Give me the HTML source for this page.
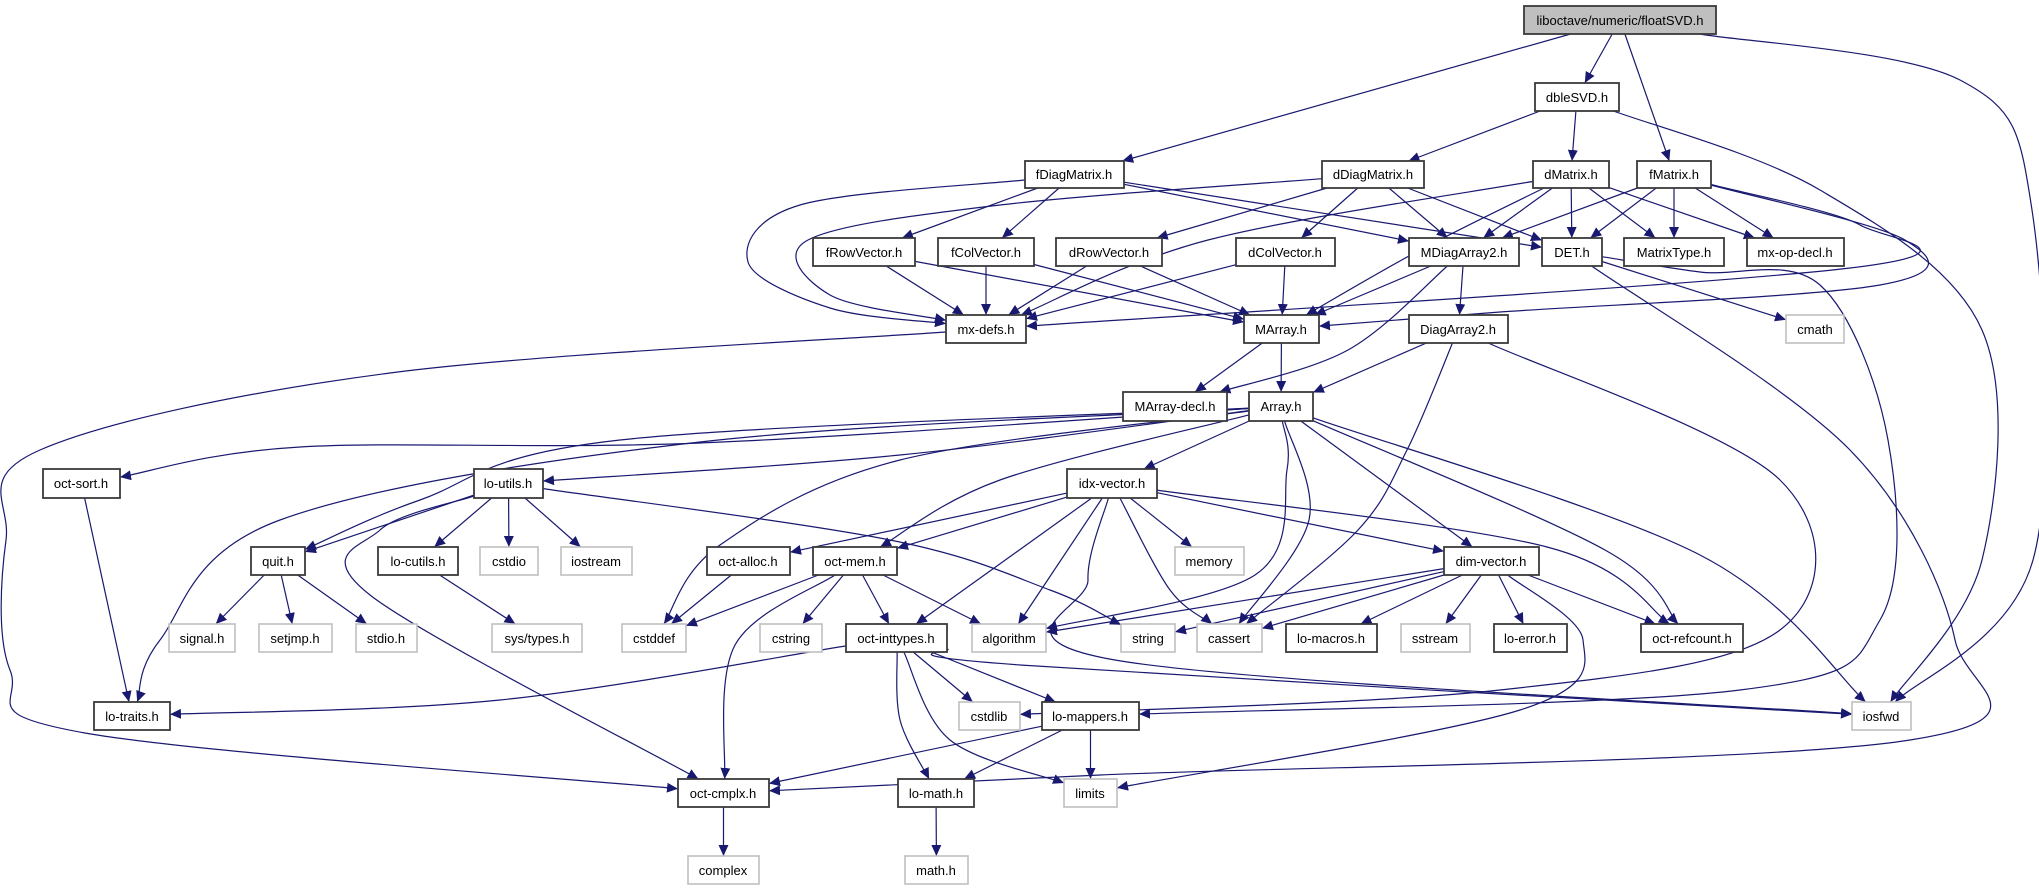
<!DOCTYPE html>
<html><head><meta charset="utf-8"><style>
html,body{margin:0;padding:0;background:#fff;}
svg{display:block;}
text{font-family:"Liberation Sans",Arial,sans-serif;font-size:13px;text-anchor:middle;fill:#000;}
.b{fill:#fff;stroke:#3a3a3a;stroke-width:1.8;}
.g{fill:#fff;stroke:#c0c0c0;stroke-width:1.6;}
.t{fill:#bfbfbf;stroke:#3a3a3a;stroke-width:1.8;}
</style></head><body>
<svg id="s" width="2039" height="891" viewBox="0 0 2039 891" xmlns="http://www.w3.org/2000/svg">
<defs><marker id="a" markerUnits="userSpaceOnUse" markerWidth="12" markerHeight="10" refX="11" refY="5" orient="auto"><path d="M0,0 L11,5 L0,10 z" fill="#191970"/></marker></defs>
<g id="edges"></g>
<g id="nodes">
<rect class="t" x="1524" y="6" width="192" height="28"/><text x="1620" y="25">liboctave/numeric/floatSVD.h</text>
<rect class="b" x="1535" y="83" width="84" height="28"/><text x="1577" y="102">dbleSVD.h</text>
<rect class="b" x="1025" y="161" width="99" height="27"/><text x="1074" y="179">fDiagMatrix.h</text>
<rect class="b" x="1322" y="161" width="102" height="27"/><text x="1373" y="179">dDiagMatrix.h</text>
<rect class="b" x="1533" y="161" width="76" height="27"/><text x="1571" y="179">dMatrix.h</text>
<rect class="b" x="1637" y="161" width="74" height="27"/><text x="1674" y="179">fMatrix.h</text>
<rect class="b" x="813" y="238" width="102" height="28"/><text x="864" y="257">fRowVector.h</text>
<rect class="b" x="938" y="238" width="96" height="28"/><text x="986" y="257">fColVector.h</text>
<rect class="b" x="1056" y="238" width="106" height="28"/><text x="1109" y="257">dRowVector.h</text>
<rect class="b" x="1236" y="238" width="99" height="28"/><text x="1285" y="257">dColVector.h</text>
<rect class="b" x="1409" y="238" width="110" height="28"/><text x="1464" y="257">MDiagArray2.h</text>
<rect class="b" x="1542" y="238" width="60" height="28"/><text x="1572" y="257">DET.h</text>
<rect class="b" x="1624" y="238" width="100" height="28"/><text x="1674" y="257">MatrixType.h</text>
<rect class="b" x="1747" y="238" width="97" height="28"/><text x="1795" y="257">mx-op-decl.h</text>
<rect class="b" x="946" y="315" width="80" height="28"/><text x="986" y="334">mx-defs.h</text>
<rect class="b" x="1244" y="315" width="75" height="28"/><text x="1281" y="334">MArray.h</text>
<rect class="b" x="1409" y="315" width="99" height="28"/><text x="1458" y="334">DiagArray2.h</text>
<rect class="g" x="1786" y="315" width="58" height="28"/><text x="1815" y="334">cmath</text>
<rect class="b" x="1123" y="392" width="104" height="29"/><text x="1175" y="411">MArray-decl.h</text>
<rect class="b" x="1249" y="392" width="64" height="29"/><text x="1281" y="411">Array.h</text>
<rect class="b" x="43" y="469" width="77" height="29"/><text x="81" y="488">oct-sort.h</text>
<rect class="b" x="474" y="469" width="69" height="29"/><text x="508" y="488">lo-utils.h</text>
<rect class="b" x="1067" y="469" width="90" height="29"/><text x="1112" y="488">idx-vector.h</text>
<rect class="b" x="251" y="547" width="54" height="28"/><text x="278" y="566">quit.h</text>
<rect class="b" x="378" y="547" width="80" height="28"/><text x="418" y="566">lo-cutils.h</text>
<rect class="g" x="480" y="547" width="58" height="28"/><text x="509" y="566">cstdio</text>
<rect class="g" x="561" y="547" width="71" height="28"/><text x="596" y="566">iostream</text>
<rect class="b" x="707" y="547" width="83" height="28"/><text x="748" y="566">oct-alloc.h</text>
<rect class="b" x="813" y="547" width="84" height="28"/><text x="855" y="566">oct-mem.h</text>
<rect class="g" x="1175" y="547" width="69" height="28"/><text x="1209" y="566">memory</text>
<rect class="b" x="1444" y="547" width="95" height="28"/><text x="1491" y="566">dim-vector.h</text>
<rect class="g" x="169" y="624" width="66" height="28"/><text x="202" y="643">signal.h</text>
<rect class="g" x="259" y="624" width="73" height="28"/><text x="295" y="643">setjmp.h</text>
<rect class="g" x="356" y="624" width="61" height="28"/><text x="386" y="643">stdio.h</text>
<rect class="g" x="492" y="624" width="90" height="28"/><text x="537" y="643">sys/types.h</text>
<rect class="g" x="622" y="624" width="64" height="28"/><text x="654" y="643">cstddef</text>
<rect class="g" x="760" y="624" width="62" height="28"/><text x="791" y="643">cstring</text>
<rect class="b" x="846" y="624" width="101" height="28"/><text x="896" y="643">oct-inttypes.h</text>
<rect class="g" x="972" y="624" width="74" height="28"/><text x="1009" y="643">algorithm</text>
<rect class="g" x="1121" y="624" width="54" height="28"/><text x="1148" y="643">string</text>
<rect class="g" x="1197" y="624" width="65" height="28"/><text x="1229" y="643">cassert</text>
<rect class="b" x="1286" y="624" width="91" height="28"/><text x="1331" y="643">lo-macros.h</text>
<rect class="g" x="1401" y="624" width="69" height="28"/><text x="1435" y="643">sstream</text>
<rect class="b" x="1494" y="624" width="73" height="28"/><text x="1530" y="643">lo-error.h</text>
<rect class="b" x="1641" y="624" width="102" height="28"/><text x="1692" y="643">oct-refcount.h</text>
<rect class="b" x="94" y="702" width="76" height="28"/><text x="132" y="721">lo-traits.h</text>
<rect class="g" x="959" y="702" width="61" height="28"/><text x="989" y="721">cstdlib</text>
<rect class="b" x="1042" y="702" width="97" height="28"/><text x="1090" y="721">lo-mappers.h</text>
<rect class="g" x="1852" y="702" width="59" height="28"/><text x="1881" y="721">iosfwd</text>
<rect class="b" x="678" y="779" width="91" height="28"/><text x="723" y="798">oct-cmplx.h</text>
<rect class="b" x="898" y="779" width="76" height="28"/><text x="936" y="798">lo-math.h</text>
<rect class="g" x="1064" y="779" width="53" height="28"/><text x="1090" y="798">limits</text>
<rect class="g" x="688" y="856" width="71" height="28"/><text x="723" y="875">complex</text>
<rect class="g" x="905" y="856" width="63" height="28"/><text x="936" y="875">math.h</text>
</g>
</svg>
<script>
var N={};
document.querySelectorAll('#nodes rect').forEach(function(r){
  var t=r.nextElementSibling.textContent;
  N[t]={x:+r.getAttribute('x'),y:+r.getAttribute('y'),w:+r.getAttribute('width'),h:+r.getAttribute('height')};
});
var T='liboctave/numeric/floatSVD.h';
var E=[
[T,'fDiagMatrix.h'],[T,'dbleSVD.h'],[T,'fMatrix.h'],[T,'iosfwd',[[1960,80],[2032,210],[2033,560]]],
['dbleSVD.h','dDiagMatrix.h'],['dbleSVD.h','dMatrix.h'],['dbleSVD.h','iosfwd',[[1820,190],[1982,330],[1982,560]]],
['fDiagMatrix.h','mx-defs.h',[[800,205],[748,262],[830,308]]],['fDiagMatrix.h','fRowVector.h'],['fDiagMatrix.h','fColVector.h'],['fDiagMatrix.h','MDiagArray2.h'],['fDiagMatrix.h','DET.h'],
['dDiagMatrix.h','mx-defs.h',[[1000,205],[808,240],[830,295]]],['dDiagMatrix.h','dRowVector.h'],['dDiagMatrix.h','dColVector.h'],['dDiagMatrix.h','MDiagArray2.h'],['dDiagMatrix.h','DET.h'],
['dMatrix.h','mx-defs.h',[[1208,240]]],['dMatrix.h','MArray.h',[[1420,250]]],['dMatrix.h','MDiagArray2.h'],['dMatrix.h','DET.h'],['dMatrix.h','MatrixType.h'],['dMatrix.h','mx-op-decl.h'],
['fMatrix.h','MDiagArray2.h'],['fMatrix.h','DET.h'],['fMatrix.h','MatrixType.h'],['fMatrix.h','mx-op-decl.h'],
['fMatrix.h','mx-defs.h',[[1860,225],[1850,268]]],['fMatrix.h','MArray.h',[[1905,240],[1880,285],[1500,312]]],
['fRowVector.h','mx-defs.h'],['fRowVector.h','MArray.h'],['fColVector.h','mx-defs.h'],['fColVector.h','MArray.h'],
['dRowVector.h','mx-defs.h'],['dRowVector.h','MArray.h'],['dColVector.h','mx-defs.h'],['dColVector.h','MArray.h'],
['MDiagArray2.h','MArray.h'],['MDiagArray2.h','MArray-decl.h',[[1348,350]]],['MDiagArray2.h','DiagArray2.h'],
['DET.h','cmath'],['DET.h','oct-cmplx.h',[[1850,450],[1955,640],[1910,740],[1100,775]]],
['DET.h','lo-mappers.h',[[1700,272],[1820,285],[1888,440],[1880,620],[1740,690]]],
['mx-defs.h','oct-cmplx.h',[[390,373],[40,450],[6,540],[10,670],[85,733]]],
['MArray.h','MArray-decl.h'],['MArray.h','Array.h'],
['DiagArray2.h','Array.h'],['DiagArray2.h','cassert',[[1407,450],[1358,530]]],['DiagArray2.h','cstdlib',[[1780,480],[1780,630],[1500,690]]],
['Array.h','oct-sort.h',[[700,443],[300,447]]],['Array.h','lo-utils.h',[[900,455]]],['Array.h','quit.h',[[620,440],[420,500]]],
['Array.h','lo-traits.h',[[700,442],[280,520],[160,640]]],['Array.h','cstddef',[[900,460],[720,545]]],
['Array.h','idx-vector.h'],['Array.h','oct-mem.h',[[1000,480]]],['Array.h','algorithm',[[1287,470],[1255,575]]],
['Array.h','cassert',[[1309,520]]],['Array.h','dim-vector.h'],['Array.h','oct-refcount.h',[[1605,550]]],['Array.h','iosfwd',[[1700,555]]],
['oct-sort.h','lo-traits.h'],
['lo-utils.h','quit.h'],['lo-utils.h','lo-cutils.h'],['lo-utils.h','cstdio'],['lo-utils.h','iostream'],
['lo-utils.h','oct-cmplx.h',[[380,530],[370,595]]],['lo-utils.h','string',[[890,540],[1050,590]]],
['quit.h','signal.h'],['quit.h','setjmp.h'],['quit.h','stdio.h'],['lo-cutils.h','sys/types.h'],
['idx-vector.h','oct-alloc.h'],['idx-vector.h','oct-mem.h'],['idx-vector.h','oct-inttypes.h'],['idx-vector.h','algorithm'],
['idx-vector.h','cassert',[[1170,590]]],['idx-vector.h','memory'],['idx-vector.h','dim-vector.h'],
['idx-vector.h','oct-refcount.h',[[1547,547]]],['idx-vector.h','iosfwd',[[1088,580],[1115,660]]],
['dim-vector.h','algorithm'],['dim-vector.h','string'],['dim-vector.h','cassert'],['dim-vector.h','lo-macros.h'],
['dim-vector.h','sstream'],['dim-vector.h','lo-error.h'],['dim-vector.h','oct-refcount.h'],
['dim-vector.h','limits',[[1583,640],[1520,710]]],
['oct-alloc.h','cstddef'],['oct-mem.h','cstddef'],['oct-mem.h','cstring'],['oct-mem.h','oct-inttypes.h'],['oct-mem.h','algorithm'],
['oct-mem.h','oct-cmplx.h',[[735,645]]],
['oct-inttypes.h','lo-traits.h',[[500,700]]],['oct-inttypes.h','cstdlib'],['oct-inttypes.h','lo-mappers.h'],
['oct-inttypes.h','lo-math.h',[[900,720]]],['oct-inttypes.h','limits',[[950,740]]],['oct-inttypes.h','iosfwd',[[1020,665]]],
['lo-mappers.h','oct-cmplx.h'],['lo-mappers.h','lo-math.h'],['lo-mappers.h','limits'],
['oct-cmplx.h','complex'],['lo-math.h','math.h']
];
function clip(b,px,py){
  var cx=b.x+b.w/2,cy=b.y+b.h/2,dx=px-cx,dy=py-cy;
  if(!dx&&!dy)return[cx,cy];
  var sx=dx?(b.w/2)/Math.abs(dx):1e9,sy=dy?(b.h/2)/Math.abs(dy):1e9,s=Math.min(sx,sy,1);
  return[cx+dx*s,cy+dy*s];
}
var g=document.getElementById('edges'),ns='http://www.w3.org/2000/svg';
E.forEach(function(e){
  var a=N[e[0]],b=N[e[1]],v=e[2]||[];
  var bc=[b.x+b.w/2,b.y+b.h/2],ac=[a.x+a.w/2,a.y+a.h/2];
  var f=v.length?v[0]:bc,l=v.length?v[v.length-1]:ac;
  var p=[clip(a,f[0],f[1])].concat(v).concat([clip(b,l[0],l[1])]);
  var d='M'+p[0][0].toFixed(1)+','+p[0][1].toFixed(1);
  if(p.length==2){d+=' L'+p[1][0].toFixed(1)+','+p[1][1].toFixed(1);}
  else{
    for(var i=0;i<p.length-1;i++){
      var p0=p[i-1]||p[i],p1=p[i],p2=p[i+1],p3=p[i+2]||p2;
      var c1=[p1[0]+(p2[0]-p0[0])/6,p1[1]+(p2[1]-p0[1])/6],c2=[p2[0]-(p3[0]-p1[0])/6,p2[1]-(p3[1]-p1[1])/6];
      d+=' C'+c1[0].toFixed(1)+','+c1[1].toFixed(1)+' '+c2[0].toFixed(1)+','+c2[1].toFixed(1)+' '+p2[0].toFixed(1)+','+p2[1].toFixed(1);
    }
  }
  var pa=document.createElementNS(ns,'path');
  pa.setAttribute('d',d);pa.setAttribute('fill','none');pa.setAttribute('stroke','#191970');
  pa.setAttribute('stroke-width','1.2');pa.setAttribute('marker-end','url(#a)');
  g.appendChild(pa);
});
</script>
</body></html>
